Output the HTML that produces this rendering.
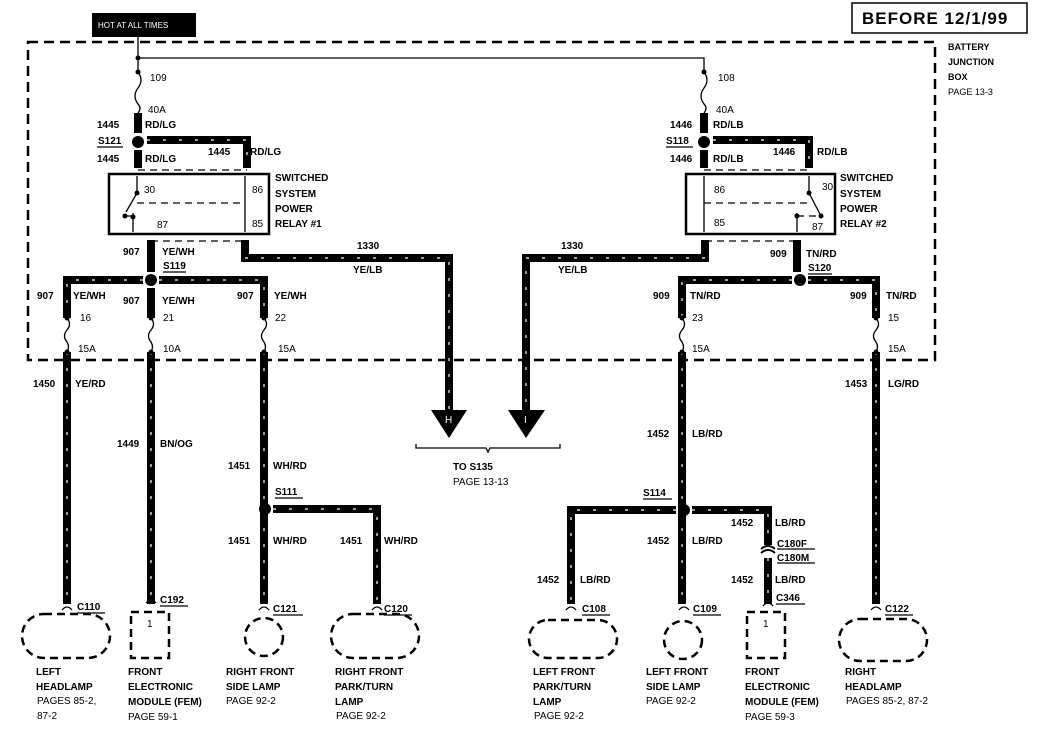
<!DOCTYPE html>
<html><head><meta charset="utf-8"><style>
body{margin:0;background:#fff}
svg{display:block}
text{font-family:"Liberation Sans",sans-serif;font-size:10px;fill:#000}
.b{font-weight:bold}
.w{stroke:#000;stroke-width:8;fill:none}
.s{stroke:#fff;stroke-width:1.2;fill:none;stroke-dasharray:3 13}
.t{stroke:#000;stroke-width:1.3;fill:none}
.d{stroke:#000;stroke-width:2.5;fill:none;stroke-dasharray:10 6}
.dt{stroke:#000;stroke-width:1.3;fill:none;stroke-dasharray:7 5}
.c{stroke:#000;stroke-width:2.5;fill:none;stroke-dasharray:8 5}
</style></head><body>
<svg width="1050" height="731" viewBox="0 0 1050 731" xmlns="http://www.w3.org/2000/svg">
<rect x="92" y="13" width="104" height="24" fill="#000"/>
<text x="98" y="28" style="fill:#fff;font-size:8px">HOT AT ALL TIMES</text>
<rect x="852" y="3" width="175" height="30" fill="none" stroke="#000" stroke-width="1.5"/>
<text x="862" y="24" class="b" style="font-size:17px;letter-spacing:1px">BEFORE 12/1/99</text>
<path class="d" d="M28 42 H935 V360 H28 Z"/>
<text x="948" y="50" class="b" style="font-size:9px">BATTERY</text>
<text x="948" y="65" class="b" style="font-size:9px">JUNCTION</text>
<text x="948" y="80" class="b" style="font-size:9px">BOX</text>
<text x="948" y="95" style="font-size:9px">PAGE 13-3</text>

<path class="t" d="M138 37 V58 H704 V72 M138 58 V72"/>
<circle cx="138" cy="58" r="2.5"/><circle cx="138" cy="72" r="2.5"/><circle cx="704" cy="72" r="2.5"/>
<path class="t" d="M138 72 q6 8 0 16 q-6 8 0 16 q4 4 0 9"/>
<path class="t" d="M704 72 q6 8 0 16 q-6 8 0 16 q4 4 0 9"/>
<text x="150" y="81">109</text><text x="148" y="113">40A</text>
<text x="718" y="81">108</text><text x="716" y="113">40A</text>

<g>
<path class="w" d="M138 113 V133"/>
<path class="w" d="M147 140 H247 V168"/>
<path class="w" d="M138 150 V168"/>
<path class="w" d="M151 240 V272"/>
<path class="w" d="M143 280 H67 V318 M159 280 H264 V318 M151 288 V318"/>
<path class="w" d="M245 240 V258 H449 V410"/>
<path class="w" d="M704 113 V133"/>
<path class="w" d="M713 140 H809 V168"/>
<path class="w" d="M704 150 V168"/>
<path class="w" d="M705 240 V258 H526 V410"/>
<path class="w" d="M797 240 V272"/>
<path class="w" d="M792 280 H682 V318 M808 280 H876 V318"/>
<path class="w" d="M67 352 V604 M151 352 V604 M264 352 V604 M682 352 V604 M876 352 V604"/>
<path class="w" d="M273 509 H377 V604"/>
<path class="w" d="M676 510 H571 V604 M692 510 H768 V545 M768 558 V604"/>
</g>
<g>
<path class="s" d="M147 140 H247 V168 M143 280 H67 V318 M159 280 H264 V318 M245 258 H449 V410 M713 140 H809 V168 M792 280 H682 V318 M808 280 H876 V318 M705 258 H526 V410 M67 352 V604 M151 352 V604 M264 352 V604 M682 352 V604 M876 352 V604 M273 509 H377 V604 M676 510 H571 V604 M692 510 H768 V545 M768 558 V604"/>
</g>
<circle cx="138" cy="142" r="6"/><circle cx="704" cy="142" r="6"/>
<circle cx="151" cy="280" r="6"/><circle cx="800" cy="280" r="6"/>
<circle cx="265" cy="509" r="6"/><circle cx="684" cy="510" r="6"/>
<g class="t">
<path d="M67 318 q5 6 0 12 q-5 6 0 12 q3 5 0 10"/>
<path d="M151 318 q5 6 0 12 q-5 6 0 12 q3 5 0 10"/>
<path d="M264 318 q5 6 0 12 q-5 6 0 12 q3 5 0 10"/>
<path d="M682 318 q5 6 0 12 q-5 6 0 12 q3 5 0 10"/>
<path d="M876 318 q5 6 0 12 q-5 6 0 12 q3 5 0 10"/>
</g>
<g>
<circle cx="67" cy="318" r="2.5"/><circle cx="67" cy="352" r="2.5"/>
<circle cx="151" cy="318" r="2.5"/><circle cx="151" cy="352" r="2.5"/>
<circle cx="264" cy="318" r="2.5"/><circle cx="264" cy="352" r="2.5"/>
<circle cx="682" cy="318" r="2.5"/><circle cx="682" cy="352" r="2.5"/>
<circle cx="876" cy="318" r="2.5"/><circle cx="876" cy="352" r="2.5"/>
</g>

<path class="dt" d="M138 170 H247"/>
<rect x="109" y="174" width="160" height="60" fill="none" stroke="#000" stroke-width="2.5"/>
<path class="t" d="M137 176 V193 L126 212 M133 213 V232 M245 176 V232"/>
<circle cx="137" cy="193" r="2.5"/><circle cx="125" cy="216" r="2.5"/><circle cx="133" cy="217" r="2.5"/>
<path class="dt" d="M137 203 H245 M125 216 H133"/>
<text x="144" y="193">30</text><text x="252" y="193">86</text><text x="157" y="228">87</text><text x="252" y="227">85</text>
<path class="dt" d="M151 241 H245"/>
<path class="dt" d="M704 170 H809"/>
<rect x="686" y="174" width="149" height="60" fill="none" stroke="#000" stroke-width="2.5"/>
<path class="t" d="M704 176 V232 M809 176 V193 L821 216 M797 213 V232"/>
<circle cx="809" cy="193" r="2.5"/><circle cx="821" cy="216" r="2.5"/><circle cx="797" cy="216" r="2.5"/>
<path class="dt" d="M704 203 H809 M797 216 H821"/>
<text x="714" y="193">86</text><text x="714" y="226">85</text><text x="822" y="190">30</text><text x="812" y="230">87</text>
<path class="dt" d="M705 241 H797"/>

<polygon points="431,410 467,410 449,438" fill="#000"/>
<text x="445" y="423" style="fill:#fff">H</text>
<polygon points="508,410 545,410 526,438" fill="#000"/>
<text x="524" y="423" style="fill:#fff">I</text>
<path class="t" d="M416 444 V448 H486 L488 452 L490 448 H560 V444"/>
<text x="453" y="470" class="b">TO S135</text>
<text x="453" y="485">PAGE 13-13</text>

<g class="b">
<text x="97" y="128">1445</text><text x="145" y="128">RD/LG</text>
<text x="98" y="144">S121</text>
<text x="97" y="162">1445</text><text x="145" y="162">RD/LG</text>
<text x="208" y="155">1445</text><text x="250" y="155">RD/LG</text>
<text x="275" y="181">SWITCHED</text><text x="275" y="197">SYSTEM</text><text x="275" y="212">POWER</text><text x="275" y="227">RELAY #1</text>
<text x="123" y="255">907</text><text x="162" y="255">YE/WH</text>
<text x="163" y="269">S119</text>
<text x="37" y="299">907</text><text x="73" y="299">YE/WH</text>
<text x="123" y="304">907</text><text x="162" y="304">YE/WH</text>
<text x="237" y="299">907</text><text x="274" y="299">YE/WH</text>
<text x="357" y="249">1330</text><text x="353" y="273">YE/LB</text>
<text x="561" y="249">1330</text><text x="558" y="273">YE/LB</text>
<text x="670" y="128">1446</text><text x="713" y="128">RD/LB</text>
<text x="666" y="144">S118</text>
<text x="670" y="162">1446</text><text x="713" y="162">RD/LB</text>
<text x="773" y="155">1446</text><text x="817" y="155">RD/LB</text>
<text x="840" y="181">SWITCHED</text><text x="840" y="197">SYSTEM</text><text x="840" y="212">POWER</text><text x="840" y="227">RELAY #2</text>
<text x="770" y="257">909</text><text x="806" y="257">TN/RD</text>
<text x="808" y="271">S120</text>
<text x="653" y="299">909</text><text x="690" y="299">TN/RD</text>
<text x="850" y="299">909</text><text x="886" y="299">TN/RD</text>
</g>
<path class="t" d="M97 147 H123 M163 272 H186 M808 274 H832 M666 147 H693 M275 498 H303 M643 499 H672"/>
<text x="80" y="321">16</text><text x="163" y="321">21</text><text x="275" y="321">22</text>
<text x="692" y="321">23</text><text x="888" y="321">15</text>
<text x="78" y="352">15A</text><text x="163" y="352">10A</text><text x="278" y="352">15A</text>
<text x="692" y="352">15A</text><text x="888" y="352">15A</text>

<g class="b">
<text x="33" y="387">1450</text><text x="75" y="387">YE/RD</text>
<text x="117" y="447">1449</text><text x="160" y="447">BN/OG</text>
<text x="228" y="469">1451</text><text x="273" y="469">WH/RD</text>
<text x="275" y="495">S111</text>
<text x="228" y="544">1451</text><text x="273" y="544">WH/RD</text>
<text x="340" y="544">1451</text><text x="384" y="544">WH/RD</text>
<text x="647" y="437">1452</text><text x="692" y="437">LB/RD</text>
<text x="643" y="496">S114</text>
<text x="845" y="387">1453</text><text x="888" y="387">LG/RD</text>
<text x="537" y="583">1452</text><text x="580" y="583">LB/RD</text>
<text x="647" y="544">1452</text><text x="692" y="544">LB/RD</text>
<text x="731" y="526">1452</text><text x="775" y="526">LB/RD</text>
<text x="777" y="547">C180F</text><text x="777" y="561">C180M</text>
<text x="731" y="583">1452</text><text x="775" y="583">LB/RD</text>
<text x="776" y="601">C346</text>
<text x="77" y="610">C110</text><text x="160" y="603">C192</text><text x="273" y="612">C121</text><text x="384" y="612">C120</text>
<text x="582" y="612">C108</text><text x="693" y="612">C109</text><text x="885" y="612">C122</text>
</g>
<path class="t" d="M77 613 H105 M160 606 H188 M273 615 H303 M384 615 H412 M582 615 H610 M693 615 H721 M885 615 H913 M777 549 H815 M777 563 H815 M776 604 H805"/>
<path d="M761 549 Q768 543 775 549 M761 553 Q768 547 775 553" stroke="#000" stroke-width="2" fill="none"/>

<g class="t">
<path d="M62 610 q5 -6 10 0 M146 603 q5 -6 10 0 M259 610 q5 -6 10 0 M372 610 q5 -6 10 0 M566 610 q5 -6 10 0 M679 610 q5 -6 10 0 M763 606 q5 -6 10 0 M871 610 q5 -6 10 0"/>
</g>
<rect x="22" y="614" width="88" height="44" rx="22" class="c"/>
<rect x="131" y="612" width="38" height="46" class="c"/><text x="147" y="627">1</text>
<circle cx="264" cy="637" r="19" class="c"/>
<rect x="331" y="614" width="88" height="44" rx="22" class="c"/>
<rect x="529" y="620" width="88" height="38" rx="19" class="c"/>
<circle cx="683" cy="640" r="19" class="c"/>
<rect x="747" y="612" width="38" height="46" class="c"/><text x="763" y="627">1</text>
<rect x="839" y="619" width="88" height="42" rx="21" class="c"/>

<g>
<text x="36" y="675" class="b">LEFT</text><text x="36" y="690" class="b">HEADLAMP</text><text x="37" y="704">PAGES 85-2,</text><text x="37" y="719">87-2</text>
<text x="128" y="675" class="b">FRONT</text><text x="128" y="690" class="b">ELECTRONIC</text><text x="128" y="705" class="b">MODULE (FEM)</text><text x="128" y="720">PAGE 59-1</text>
<text x="226" y="675" class="b">RIGHT FRONT</text><text x="226" y="690" class="b">SIDE LAMP</text><text x="226" y="704">PAGE 92-2</text>
<text x="335" y="675" class="b">RIGHT FRONT</text><text x="335" y="690" class="b">PARK/TURN</text><text x="335" y="705" class="b">LAMP</text><text x="336" y="719">PAGE 92-2</text>
<text x="533" y="675" class="b">LEFT FRONT</text><text x="533" y="690" class="b">PARK/TURN</text><text x="533" y="705" class="b">LAMP</text><text x="534" y="719">PAGE 92-2</text>
<text x="646" y="675" class="b">LEFT FRONT</text><text x="646" y="690" class="b">SIDE LAMP</text><text x="646" y="704">PAGE 92-2</text>
<text x="745" y="675" class="b">FRONT</text><text x="745" y="690" class="b">ELECTRONIC</text><text x="745" y="705" class="b">MODULE (FEM)</text><text x="745" y="720">PAGE 59-3</text>
<text x="845" y="675" class="b">RIGHT</text><text x="845" y="690" class="b">HEADLAMP</text><text x="846" y="704">PAGES 85-2, 87-2</text>
</g>
</svg>
</body></html>
